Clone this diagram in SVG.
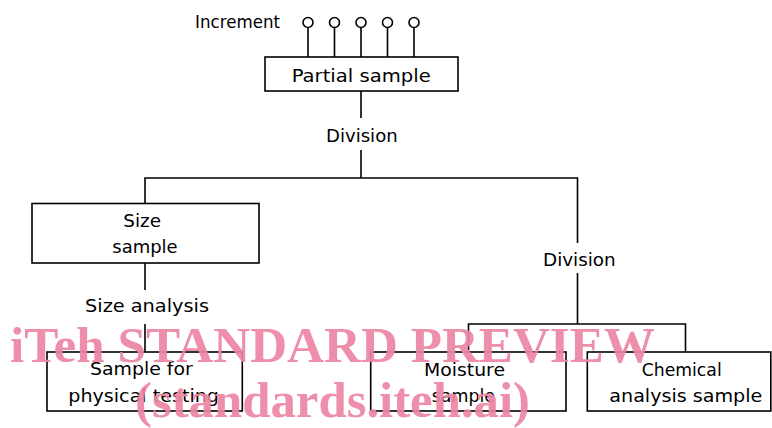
<svg xmlns="http://www.w3.org/2000/svg" width="772" height="428" viewBox="0 0 772 428">
  <style>
    .box { fill: #fff; stroke: #000; stroke-width: 1.6; }
    .ln { fill: none; stroke: #000; stroke-width: 1.6; }
    .pin { fill: #fff; stroke: #000; stroke-width: 1.6; }
    .t { font-family: "DejaVu Sans", "Liberation Sans", sans-serif; font-size: 18px; fill: #000; }
    .wm { font-family: "Liberation Serif", "Times New Roman", serif; font-weight: bold; font-size: 51px; fill: #ec86a3; opacity: 0.92; }
  </style>

  <!-- connectors -->
  <g id="connectors">
    <!-- increments into partial sample -->
    <path class="ln" d="M308,27.5V57 M334.5,27.5V57 M361,27.5V57 M387.5,27.5V57 M414,27.5V57"/>
    <!-- partial sample to first division -->
    <path class="ln" d="M361,91V118 M361,150V178"/>
    <!-- first split -->
    <path class="ln" d="M145,203.5V178H577.5V243"/>
    <!-- size sample to physical testing -->
    <path class="ln" d="M145,263V290 M145,324V352"/>
    <!-- second division -->
    <path class="ln" d="M577.5,273V324 M468.5,352V324H685.5V352"/>
  </g>

  <!-- increment pins -->
  <g id="increments">
    <text class="t" x="195" y="27.7" font-size="16.5" textLength="85" lengthAdjust="spacingAndGlyphs">Increment</text>
    <circle class="pin" cx="308" cy="22.5" r="5"/>
    <circle class="pin" cx="334.5" cy="22.5" r="5"/>
    <circle class="pin" cx="361" cy="22.5" r="5"/>
    <circle class="pin" cx="387.5" cy="22.5" r="5"/>
    <circle class="pin" cx="414" cy="22.5" r="5"/>
  </g>

  <g id="partial-sample">
    <rect class="box" x="265" y="57" width="193" height="34"/>
    <text class="t" x="291.7" y="81.7" textLength="139" lengthAdjust="spacingAndGlyphs">Partial sample</text>
  </g>

  <g id="division-1">
    <text class="t" x="326" y="141.7" textLength="71.7" lengthAdjust="spacingAndGlyphs">Division</text>
  </g>

  <g id="size-sample">
    <rect class="box" x="32" y="203.5" width="227" height="59.5"/>
    <text class="t" x="123.3" y="226.7" textLength="37.7" lengthAdjust="spacingAndGlyphs">Size</text>
    <text class="t" x="112.3" y="253" textLength="65.4" lengthAdjust="spacingAndGlyphs">sample</text>
  </g>

  <g id="size-analysis">
    <text class="t" x="85" y="311.7" textLength="124" lengthAdjust="spacingAndGlyphs">Size analysis</text>
  </g>

  <g id="physical-testing">
    <rect class="box" x="47" y="352" width="195.3" height="59"/>
    <text class="t" x="90" y="375" textLength="102.7" lengthAdjust="spacingAndGlyphs">Sample for</text>
    <text class="t" x="68.3" y="401.7" textLength="150.7" lengthAdjust="spacingAndGlyphs">physical testing</text>
  </g>

  <g id="division-2">
    <text class="t" x="543" y="265.7" textLength="72.7" lengthAdjust="spacingAndGlyphs">Division</text>
  </g>

  <g id="moisture-sample">
    <rect class="box" x="370.7" y="352" width="195.3" height="59"/>
    <text class="t" x="424" y="376" textLength="81" lengthAdjust="spacingAndGlyphs">Moisture</text>
    <text class="t" x="431.7" y="401.7" textLength="63.3" lengthAdjust="spacingAndGlyphs">sample</text>
  </g>

  <g id="chemical-sample">
    <rect class="box" x="587.3" y="352" width="183.5" height="59"/>
    <text class="t" x="641.7" y="376" textLength="80" lengthAdjust="spacingAndGlyphs">Chemical</text>
    <text class="t" x="609.3" y="401.7" textLength="153" lengthAdjust="spacingAndGlyphs">analysis sample</text>
  </g>

  <!-- overprinted banner -->
  <g id="banner">
    <text class="wm" x="10" y="361.7" textLength="645" lengthAdjust="spacingAndGlyphs">iTeh STANDARD PREVIEW</text>
    <text class="wm" x="135" y="417" textLength="395" lengthAdjust="spacingAndGlyphs">(standards.iteh.ai)</text>
  </g>
</svg>
